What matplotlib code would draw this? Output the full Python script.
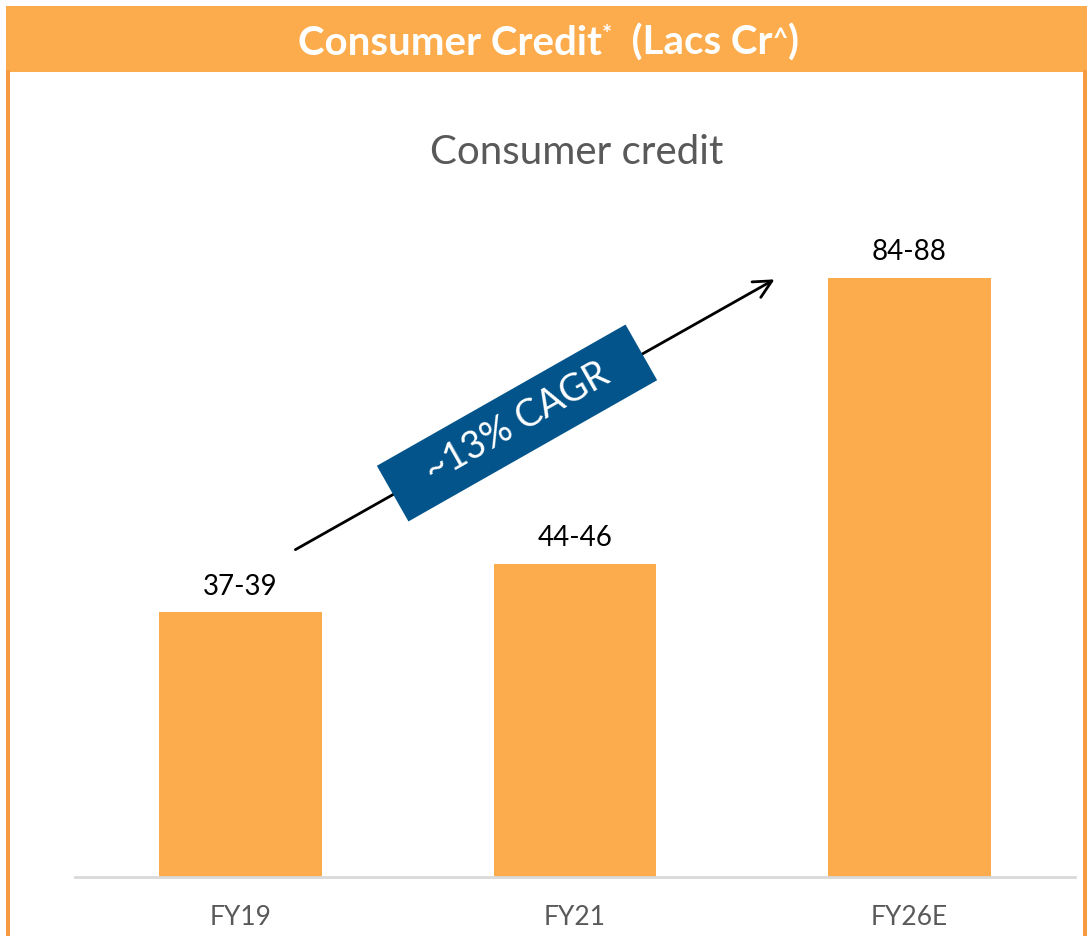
import numpy as np
import matplotlib
matplotlib.use("Agg")
import matplotlib.pyplot as plt
from matplotlib.patches import Rectangle
from matplotlib.transforms import Affine2D

# consumer credit ranges, Lacs Cr
categories = ["FY19", "FY21", "FY26E"]
range_low = [37, 44, 84]
range_high = [39, 46, 88]
cagr_label = "~13% CAGR"

W, H, DPI = 1089, 936, 100
ORANGE = "#FCAC4C"
BORDER = "#F79A42"
BLUE = "#02548A"
GRAY = "#595959"

plt.rcParams["font.family"] = ["Lato", "DejaVu Sans"]

fig = plt.figure(figsize=(W / DPI, H / DPI), dpi=DPI)
fig.patch.set_facecolor("white")


def px(x, y):
    # pixel position (from top-left) -> figure fraction
    return x / W, 1 - y / H


# frame: orange header band plus side borders
fig.add_artist(Rectangle(px(6, 72), 1081 / W, 66 / H, transform=fig.transFigure,
                         facecolor=ORANGE, edgecolor="none", zorder=0))
fig.add_artist(Rectangle(px(6, 936), 4 / W, 866 / H, transform=fig.transFigure,
                         facecolor=BORDER, edgecolor="none", zorder=0))
fig.add_artist(Rectangle(px(1083, 936), 4 / W, 866 / H, transform=fig.transFigure,
                         facecolor=BORDER, edgecolor="none", zorder=0))

# header text with raised marks, laid out piece by piece
pieces = [("Consumer Credit", 29, 0), ("*", 17, 12), ("  (Lacs Cr", 29, 0), ("^", 19, 8), (")", 29, 0)]
renderer = fig.canvas.get_renderer()
texts = []
for s, size, _ in pieces:
    t = fig.text(0, 0, s, fontsize=size, fontweight="bold", color="white",
                 va="baseline", ha="left")
    texts.append(t)
widths = [t.get_window_extent(renderer).width for t in texts]
x0 = 548 - sum(widths) / 2
base_y = 936 - 55
for t, w, (_, _, rise) in zip(texts, widths, pieces):
    t.set_position((x0 / W, (base_y + rise) / H))
    x0 += w

ax = fig.add_axes([75 / W, (936 - 877) / H, 1000 / W, 677 / H])
ax.set_facecolor("none")

xpos = np.arange(len(categories))
mid = [(lo + hi) / 2 for lo, hi in zip(range_low, range_high)]
ax.bar(xpos, mid, width=0.485, color=ORANGE, zorder=2)
for x, v, lo, hi in zip(xpos, mid, range_low, range_high):
    ax.text(x, v + 1.8, f"{lo}-{hi}", ha="center", va="bottom", fontsize=20, color="black")

ax.set_xlim(-0.495, 2.495)
ax.set_ylim(0, 97.2)
ax.set_xticks(xpos)
ax.set_xticklabels(categories, fontsize=19, color=GRAY)
ax.tick_params(axis="x", length=0, pad=20)
ax.set_yticks([])
for side in ["top", "left", "right"]:
    ax.spines[side].set_visible(False)
ax.spines["bottom"].set_color("#D9D9D9")
ax.spines["bottom"].set_linewidth(2)

fig.text(577 / W, 1 - 152 / H, "Consumer credit", ha="center", va="center",
         fontsize=29, color=GRAY)

# growth arrow
fig.add_artist(matplotlib.patches.FancyArrowPatch(
    px(293, 551), px(777, 278), transform=fig.transFigure,
    arrowstyle="->", mutation_scale=32, lw=2, color="black", zorder=3))

# rotated CAGR box on the arrow (pixel space)
cx, cy = 517, 936 - 423
angle = 29.6
bw, bh = 286, 64
box = Rectangle((cx - bw / 2, cy - bh / 2), bw, bh, facecolor=BLUE, edgecolor="none",
                transform=Affine2D().rotate_deg_around(cx, cy, angle), zorder=4)
fig.add_artist(box)
fig.text(cx / W, cy / H, cagr_label, ha="center", va="center", rotation=angle,
         rotation_mode="anchor", fontsize=27, color="white", zorder=5)

fig.savefig("out.png", dpi=DPI)
